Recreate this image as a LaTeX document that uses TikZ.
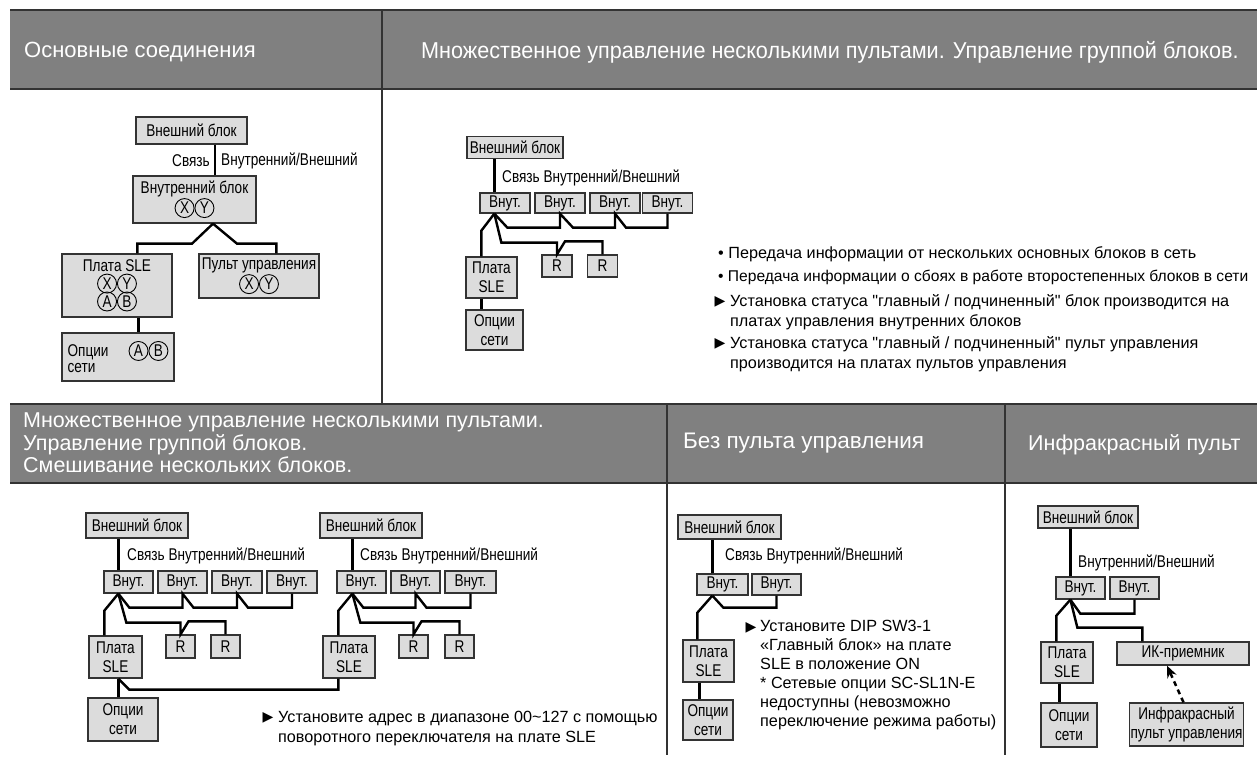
\documentclass[tikz,border=0pt]{standalone}
\usepackage{fontspec}
\setmainfont{Liberation Sans}
\newfontfamily\narrowfont[FakeStretch=0.8]{Liberation Sans}
\newfontfamily\hdrnarrow[FakeStretch=0.94]{Liberation Sans}
\newfontfamily\symfont{DejaVu Sans}
\usetikzlibrary{arrows.meta}
\definecolor{hdrgray}{HTML}{808080}
\definecolor{boxgray}{HTML}{DCDCDC}
\definecolor{edgegray}{HTML}{333333}
\tikzset{
  >={Stealth[length=12pt, width=10pt]}, % arrow heads
  blk/.style={draw=edgegray, fill=boxgray, line width=1.3pt, inner sep=1pt, align=center,
    font=\narrowfont\fontsize{17}{19}\selectfont}, % every box of the schemes
  wire/.style={line width=2.4pt, line join=miter}, % the thick connections
  irlink/.style={->, line width=2.5pt, dash pattern=on 5pt off 4pt},
  hline/.style={draw=edgegray, line width=1.2pt},
  hdrtxt/.style={text=white, anchor=west, inner sep=0pt, font=\fontsize{22}{23}\selectfont},
  lbl/.style={anchor=west, inner sep=0pt, font=\narrowfont\fontsize{17}{19}\selectfont},
  note/.style={anchor=west, inner sep=0pt, align=left, font=\fontsize{16.2}{20}\selectfont},
  tri/.style={inner sep=0pt, font=\symfont\fontsize{14}{14}\selectfont},
}
\newcommand{\crc}[1]{\tikz[baseline=(c.base)]\node[draw, circle, inner sep=0pt, minimum size=19pt, line width=0.9pt] (c) {#1};}

\begin{document}
\begin{tikzpicture}[x=1pt, y=-1pt]
\useasboundingbox (0,0) rectangle (1257,758);

% header bars
\fill[hdrgray] (10,10) rectangle (1257,89);
\fill[hdrgray] (10,404) rectangle (1257,483);
\draw[hline] (10,10) -- (1257,10) (10,89) -- (1257,89);
\draw[hline] (10,404) -- (1257,404) (10,483) -- (1257,483);
\draw[hline] (382,10) -- (382,404);
\draw[hline] (667,404) -- (667,755);
\draw[hline] (1005,404) -- (1005,755);

\node[hdrtxt] (h1) at (24,52) {Основные соединения};
\node[hdrtxt, font=\hdrnarrow\fontsize{23}{24}\selectfont] (h2) at (421,52)
  {Множественное управление несколькими пультами. Управление группой блоков.};
\node[hdrtxt, align=left, font=\fontsize{21.5}{22.5}\selectfont] (h3) at (23,443)
  {Множественное управление несколькими пультами.\\Управление группой блоков.\\Смешивание нескольких блоков.};
\node[hdrtxt, font=\fontsize{22.5}{23}\selectfont] (h4) at (683,443) {Без пульта управления};
\node[hdrtxt, font=\fontsize{21.5}{23}\selectfont] (h5) at (1028,445) {Инфракрасный пульт};

% basic connection
\node[blk, minimum width=111pt, minimum height=27pt] (ob0) at (191.5,130.5) {Внешний блок};
\node[blk, minimum width=123pt, minimum height=47pt] (ib0) at (194.5,199.5) {Внутренний блок\\\crc{X}\crc{Y}};
\node[blk, minimum width=110pt, minimum height=63pt] (sle0) at (117,285.5) {Плата SLE\\[-1pt]\crc{X}\crc{Y}\\[-3pt]\crc{A}\crc{B}};
\node[blk, minimum width=120pt, minimum height=44pt] (pu0) at (259,276) {Пульт управления\\\crc{X}\crc{Y}};
\node[blk, minimum width=112pt, minimum height=48pt, align=left] (op0) at (118,357) {Опции\hspace{20pt}\crc{A}\crc{B}\\[-3pt]сети};

\draw[wire] ([xshift=23.5pt]ob0.south) -- ([xshift=23.5pt]ob0.south |- ib0.north);
\node[lbl, anchor=east] (sv0) at (210,161) {Связь};
\node[lbl] (vv0) at (221,161) {Внутренний/Внешний};
\draw[wire] ([xshift=18.5pt]ib0.south) -- ++(-21,20) -| ([xshift=76pt]sle0.north west);
\draw[wire] ([xshift=18.5pt]ib0.south) -- ++(24,20) -| ([xshift=78pt]pu0.north west);
\draw[wire] ([xshift=77pt]sle0.south west) -- ([xshift=77pt]sle0.south west |- op0.north);

% several remote controllers
\node[blk, minimum width=96pt, minimum height=22pt] (ob1) at (515,147.5) {Внешний блок};
\node[lbl] (sv1) at (502,178) {Связь Внутренний/Внешний};
\node[blk, minimum width=50pt, minimum height=20pt] (vn1a) at (505,203) {Внут.};
\node[blk, minimum width=50pt, minimum height=20pt] (vn1b) at (560,203) {Внут.};
\node[blk, minimum width=50pt, minimum height=20pt] (vn1c) at (615,203) {Внут.};
\node[blk, minimum width=50pt, minimum height=20pt] (vn1d) at (667.5,203) {Внут.};
\node[blk, minimum width=30pt, minimum height=22pt] (r1a) at (557,266) {R};
\node[blk, minimum width=30pt, minimum height=22pt] (r1b) at (602.5,266) {R};
\node[blk, minimum width=51pt, minimum height=41pt] (sle1) at (491.5,277.5) {Плата\\SLE};
\node[blk, minimum width=57pt, minimum height=40pt] (op1) at (494.5,330) {Опции\\сети};

\draw[wire] ([xshift=15pt]vn1a.north west) -- ([xshift=15pt]vn1a.north west |- ob1.south);
\draw[wire] ([xshift=15pt]vn1a.south west) -- ++(13,14) -| (vn1b.south) -- ++(13,14) -| (vn1c.south) -- ++(11,14) -| (vn1d.south);
\draw[wire] ([xshift=15pt]vn1a.south west) -- ++(7,29) -| (r1a.north) -- ++(8,-13) -| (r1b.north);
\draw[wire] ([xshift=15pt]vn1a.south west) -- ++(-13,17) -- ([xshift=16pt]sle1.north west);
\draw[wire] ([xshift=16pt]sle1.south west) -- ([xshift=16pt]sle1.south west |- op1.north);

\node[note] (b1) at (718,254) {• Передача информации от нескольких основных блоков в сеть};
\node[note, font=\fontsize{15.6}{20}\selectfont] (b2) at (718,277) {• Передача информации о сбоях в работе второстепенных блоков в сети};
\node[tri] (t1) at (720,302) {▶};
\node[note] (n1) at (730,312) {Установка статуса \textquotedbl главный / подчиненный\textquotedbl{} блок производится на\\платах управления внутренних блоков};
\node[tri] (t2) at (720,344) {▶};
\node[note] (n2) at (730,354.5) {Установка статуса \textquotedbl главный / подчиненный\textquotedbl{} пульт управления\\производится на платах пультов управления};

% group control, two outdoor units
\node[blk, minimum width=102pt, minimum height=25pt] (obA) at (137,525.5) {Внешний блок};
\node[lbl] (svA) at (127,556) {Связь Внутренний/Внешний};
\node[blk, minimum width=49pt, minimum height=22pt] (vnA1) at (128.5,582) {Внут.};
\node[blk, minimum width=49pt, minimum height=22pt] (vnA2) at (182.5,582) {Внут.};
\node[blk, minimum width=50pt, minimum height=22pt] (vnA3) at (237,582) {Внут.};
\node[blk, minimum width=50pt, minimum height=22pt] (vnA4) at (292,582) {Внут.};
\node[blk, minimum width=29pt, minimum height=23pt] (rA1) at (180.5,646.5) {R};
\node[blk, minimum width=29pt, minimum height=23pt] (rA2) at (225.5,646.5) {R};
\node[blk, minimum width=53pt, minimum height=42pt] (sleA) at (115.5,657) {Плата\\SLE};
\node[blk, minimum width=70pt, minimum height=43pt] (opA) at (123,719.5) {Опции\\сети};

\node[blk, minimum width=102pt, minimum height=25pt] (obB) at (371,525.5) {Внешний блок};
\node[lbl] (svB) at (360,556) {Связь Внутренний/Внешний};
\node[blk, minimum width=49pt, minimum height=22pt] (vnB1) at (361.5,582) {Внут.};
\node[blk, minimum width=49pt, minimum height=22pt] (vnB2) at (415.5,582) {Внут.};
\node[blk, minimum width=51pt, minimum height=22pt] (vnB3) at (470.5,582) {Внут.};
\node[blk, minimum width=29pt, minimum height=23pt] (rB1) at (413.5,646.5) {R};
\node[blk, minimum width=29pt, minimum height=23pt] (rB2) at (459.5,646.5) {R};
\node[blk, minimum width=52pt, minimum height=42pt] (sleB) at (349,657) {Плата\\SLE};

\draw[wire] ([xshift=15pt]vnA1.north west) -- ([xshift=15pt]vnA1.north west |- obA.south);
\draw[wire] ([xshift=15pt]vnA1.south west) -- ++(11,14) -| (vnA2.south) -- ++(11,14) -| (vnA3.south) -- ++(11,14) -| (vnA4.south);
\draw[wire] ([xshift=15pt]vnA1.south west) -- ++(8,29) -| (rA1.north) -- ++(8,-13) -| (rA2.north);
\draw[wire] ([xshift=15pt]vnA1.south west) -- ++(-14,17) -- ([xshift=16pt]sleA.north west);
\draw[wire] ([xshift=30pt]sleA.south west) -- ([xshift=30pt]sleA.south west |- opA.north);
\draw[wire] ([xshift=30pt]sleA.south west) -- ++(11,11) -| ([xshift=16pt]sleB.south west);

\draw[wire] ([xshift=16pt]vnB1.north west) -- ([xshift=16pt]vnB1.north west |- obB.south);
\draw[wire] ([xshift=16pt]vnB1.south west) -- ++(11,14) -| (vnB2.south) -- ++(11,14) -| (vnB3.south);
\draw[wire] ([xshift=16pt]vnB1.south west) -- ++(8,29) -| (rB1.north) -- ++(8,-13) -| (rB2.north);
\draw[wire] ([xshift=16pt]vnB1.south west) -- ++(-14,17) -- ([xshift=16pt]sleB.north west);

\node[tri] (t3) at (268,718) {▶};
\node[note] (n3) at (278,729) {Установите адрес в диапазоне 00\textasciitilde127 с помощью\\поворотного переключателя на плате SLE};

% no remote controller
\node[blk, minimum width=103pt, minimum height=24pt] (obC) at (729.5,527) {Внешний блок};
\node[lbl] (svC) at (725,556) {Связь Внутренний/Внешний};
\node[blk, minimum width=51pt, minimum height=21pt] (vnC1) at (722.5,584.5) {Внут.};
\node[blk, minimum width=49pt, minimum height=21pt] (vnC2) at (776.5,584.5) {Внут.};
\node[blk, minimum width=51pt, minimum height=42pt] (sleC) at (708.5,661) {Плата\\SLE};
\node[blk, minimum width=50pt, minimum height=40pt] (opC) at (708,720) {Опции\\сети};

\draw[wire] ([xshift=16pt]vnC1.north west) -- ([xshift=16pt]vnC1.north west |- obC.south);
\draw[wire] ([xshift=16pt]vnC1.south west) -- ++(11,12) -| (vnC2.south);
\draw[wire] ([xshift=16pt]vnC1.south west) -- ++(-15,17) -- ([xshift=15pt]sleC.north west);
\draw[wire] ([xshift=17pt]sleC.south west) -- ([xshift=17pt]sleC.south west |- opC.north);

\node[tri] (t4) at (751,628) {▶};
\node[note, font=\fontsize{16.2}{19}\selectfont] (n4) at (760,675.5) {Установите DIP SW3-1\\«Главный блок» на плате\\SLE в положение ON\\* Сетевые опции SC-SL1N-E\\недоступны (невозможно\\переключение режима работы)};

% infrared remote controller
\node[blk, minimum width=100pt, minimum height=22pt] (obD) at (1088,517) {Внешний блок};
\node[lbl] (vvD) at (1078,563) {Внутренний/Внешний};
\node[blk, minimum width=49pt, minimum height=22pt] (vnD1) at (1080.5,588) {Внут.};
\node[blk, minimum width=49pt, minimum height=22pt] (vnD2) at (1134.5,588) {Внут.};
\node[blk, minimum width=52pt, minimum height=41pt] (sleD) at (1067,662.5) {Плата\\SLE};
\node[blk, minimum width=56pt, minimum height=44pt] (opD) at (1069,725) {Опции\\сети};
\node[blk, minimum width=132pt, minimum height=23pt] (irD) at (1183,653.5) {ИК-приемник};
\node[blk, minimum width=113pt, minimum height=43pt] (irpD) at (1186.5,724.5) {Инфракрасный\\пульт управления};

\draw[wire] ([xshift=15pt]vnD1.north west) -- ([xshift=15pt]vnD1.north west |- obD.south);
\draw[wire] ([xshift=15pt]vnD1.south west) -- ++(10,14) -| (vnD2.south);
\draw[wire] ([xshift=15pt]vnD1.south west) -- ++(7,28) -| ([xshift=26pt]irD.north west);
\draw[wire] ([xshift=15pt]vnD1.south west) -- ++(-14,16) -- ([xshift=16pt]sleD.north west);
\draw[wire] ([xshift=19pt]sleD.south west) -- ([xshift=19pt]sleD.south west |- opD.north);
\draw[irlink] ([xshift=-3pt]irpD.north) -- ([xshift=-16pt]irD.south);
\end{tikzpicture}
\end{document}
